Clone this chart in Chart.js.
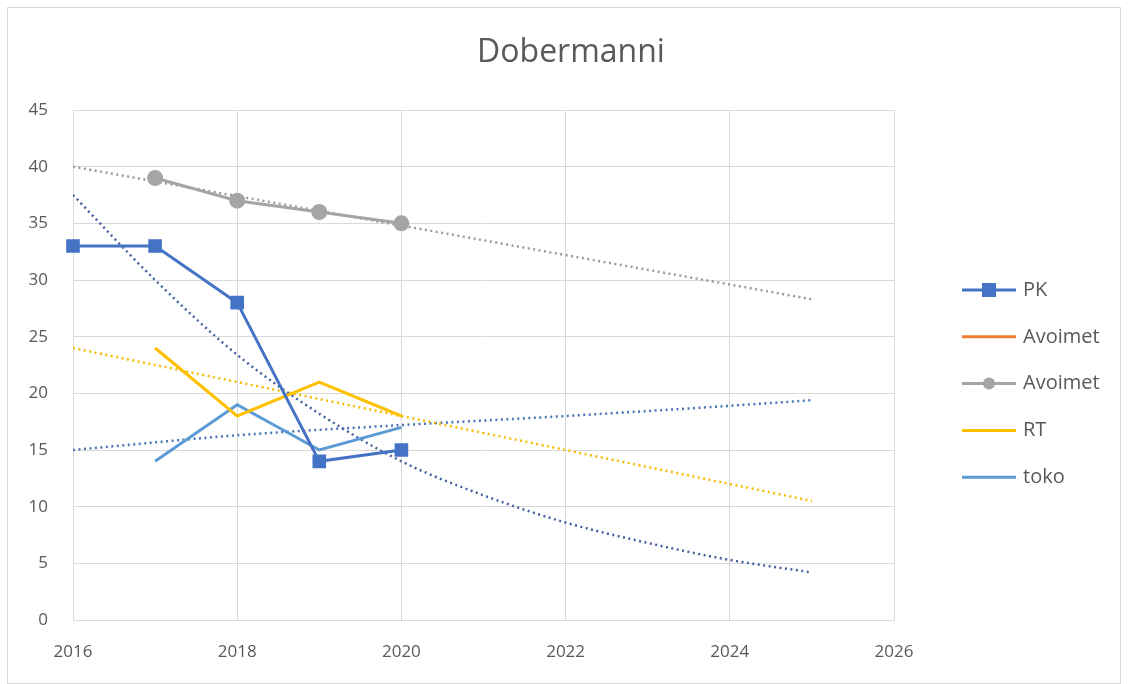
<!DOCTYPE html>
<html>
<head>
<meta charset="utf-8">
<script src="https://cdn.jsdelivr.net/npm/chart.js@4"></script>
<style>
  body { margin: 0; background: #fff; }
  #wrap { width: 1128px; height: 684px; position: relative; }
</style>
</head>
<body>
<div id="wrap"><canvas id="chart1" width="1128" height="684"></canvas></div>
<script>
"use strict";
// data
const years = [2016, 2017, 2018, 2019, 2020];
const pkValues = [33, 33, 28, 14, 15];
const avoimetValues = [null, 39, 37, 36, 35];
const rtValues = [null, 24, 18, 21, 18];
const tokoValues = [null, 14, 19, 15, 17];

// dotted trendlines, points
const avoimetTrend = [[2016, 40], [2025, 28.3]];
const rtTrend = [[2016, 24], [2025, 10.5]];
const pkTrend = [[2016, 37.5], [2017, 30], [2018, 23.4], [2019, 18.2], [2020, 14], [2021, 11], [2022, 8.6], [2023, 6.8], [2024, 5.3], [2025, 4.2]];
const tokoTrend = [[2016, 15], [2018, 16.3], [2020, 17.2], [2022, 18], [2024, 18.9], [2025, 19.4]];

const yTicks = [0, 5, 10, 15, 20, 25, 30, 35, 40, 45];
const xTicks = [2016, 2018, 2020, 2022, 2024, 2026];

const textColor = "#595959";
const gridColor = "#d9d9d9";
const fontFamily = "'Open Sans', sans-serif";

const toXY = (vals) => years.map((y, i) => ({ x: y, y: vals[i] }));
const pairs = (arr) => arr.map((p) => ({ x: p[0], y: p[1] }));

const datasets = [
    { label: "PK", data: toXY(pkValues), borderColor: "#4472c4", backgroundColor: "#4472c4", borderWidth: 3, pointStyle: "rect", pointRadius: 7.5, legend: true, clip: false },
    { label: "Avoimet", data: [], borderColor: "#ed7d31", backgroundColor: "#ed7d31", borderWidth: 3, pointRadius: 0, legend: true },
    { label: "Avoimet", data: toXY(avoimetValues), borderColor: "#a5a5a5", backgroundColor: "#a5a5a5", borderWidth: 3, pointStyle: "circle", pointRadius: 6.5, legend: true, clip: false },
    { label: "RT", data: toXY(rtValues), borderColor: "#ffc000", backgroundColor: "#ffc000", borderWidth: 3, pointRadius: 0, legend: true },
    { label: "toko", data: toXY(tokoValues), borderColor: "#5b9bd5", backgroundColor: "#5b9bd5", borderWidth: 3, pointRadius: 0, legend: true },
    { label: "trend", data: pairs(pkTrend), borderColor: "#44619f", borderWidth: 2.5, borderDash: [2, 3.5], pointRadius: 0, cubicInterpolationMode: "monotone" },
    { label: "trend", data: pairs(avoimetTrend), borderColor: "#9a9a9a", borderWidth: 2.5, borderDash: [2, 3.5], pointRadius: 0 },
    { label: "trend", data: pairs(rtTrend), borderColor: "#f5bb00", borderWidth: 2.5, borderDash: [2, 3.5], pointRadius: 0 },
    { label: "trend", data: pairs(tokoTrend), borderColor: "#4a75b8", borderWidth: 2.5, borderDash: [2, 3.5], pointRadius: 0, cubicInterpolationMode: "monotone" },
];

// title, frame and legend drawn by hand to get the Excel look
const excelBits = {
    id: "excelBits",
    beforeDraw(chart) {
        const ctx = chart.ctx;
        ctx.save();
        ctx.fillStyle = "#fff";
        ctx.fillRect(0, 0, chart.width, chart.height);
        ctx.strokeStyle = gridColor;
        ctx.lineWidth = 1;
        ctx.strokeRect(7.5, 7.5, 1113, 676);
        ctx.restore();
    },
    afterDraw(chart) {
        const ctx = chart.ctx;
        ctx.save();
        ctx.fillStyle = textColor;
        ctx.font = "32px " + fontFamily;
        ctx.textAlign = "center";
        ctx.textBaseline = "middle";
        ctx.fillText("Dobermanni", 571, 53);

        let y = 290;
        chart.data.datasets.forEach((ds) => {
            if (!ds.legend) return;
            ctx.strokeStyle = ds.borderColor;
            ctx.lineWidth = 3;
            ctx.beginPath();
            ctx.moveTo(962, y);
            ctx.lineTo(1016, y);
            ctx.stroke();
            ctx.fillStyle = ds.backgroundColor;
            if (ds.pointStyle === "rect") {
                ctx.fillRect(982, y - 7, 14, 14);
            } else if (ds.pointStyle === "circle") {
                ctx.beginPath();
                ctx.arc(989, y, 6, 0, Math.PI * 2);
                ctx.fill();
            }
            ctx.fillStyle = textColor;
            ctx.font = "20px " + fontFamily;
            ctx.textAlign = "left";
            ctx.fillText(ds.label, 1023, y);
            y += 46.8;
        });
        ctx.restore();
    },
};

new Chart(document.querySelector("#chart1"), {
    type: "line",
    data: { datasets: datasets },
    options: {
        responsive: false,
        animation: false,
        spanGaps: false,
        layout: { padding: { left: 8, top: 110, right: 234, bottom: 8 } },
        plugins: { legend: { display: false }, title: { display: false }, tooltip: { enabled: false } },
        scales: {
            x: {
                type: "linear",
                min: 2016,
                max: 2026,
                afterBuildTicks: (s) => { s.ticks = xTicks.map((v) => ({ value: v })); },
                afterFit: (s) => { s.height = 56; },
                ticks: { color: textColor, font: { family: fontFamily, size: 17 }, padding: 22, callback: (v) => String(v) },
                grid: { color: gridColor, lineWidth: 1, drawTicks: false },
                border: { color: gridColor },
            },
            y: {
                min: 0,
                max: 45,
                afterBuildTicks: (s) => { s.ticks = yTicks.map((v) => ({ value: v })); },
                afterFit: (s) => { s.width = 65; },
                ticks: { color: textColor, font: { family: fontFamily, size: 17 }, padding: 25 },
                grid: { color: gridColor, lineWidth: 1, drawTicks: false },
                border: { display: false },
            },
        },
    },
    plugins: [excelBits],
});
</script>
</body>
</html>
